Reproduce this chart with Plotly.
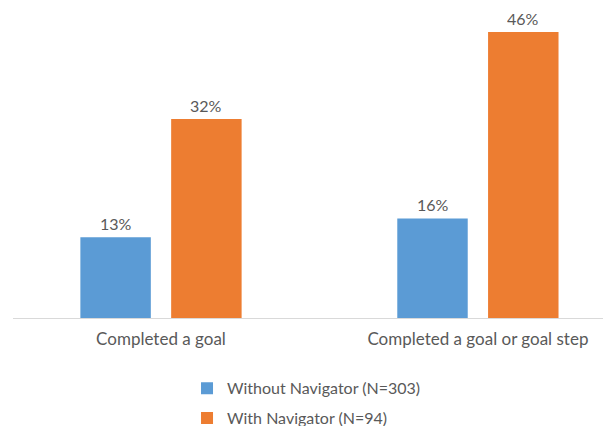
import plotly.graph_objects as go

categories = ["Completed a goal", "Completed a goal or goal step"]
series_names = ["Without Navigator (N=303)", "With Navigator (N=94)"]
without_nav = [13, 16]
with_nav = [32, 46]
colors = ["#5B9BD5", "#ED7D31"]

FONT = "Lato"
TXT = "#595959"
SLOT_PX = 90.8

fig = go.Figure()
annotations = []
for i, (name, vals) in enumerate(zip(series_names, [without_nav, with_nav])):
    fig.add_trace(go.Bar(
        x=categories, y=vals, name=name,
        marker=dict(color=colors[i], line=dict(width=0)),
        legendgroup=f"g{i}",
    ))
    for cat, v in zip(categories, vals):
        annotations.append(dict(
            x=cat, y=v, xref="x", yref="y", text=f"{v}%", showarrow=False,
            yanchor="bottom", yshift=5, xshift=(i - 0.5) * SLOT_PX,
            height=15, borderpad=0, valign="middle",
            font=dict(family=FONT, size=16, color=TXT),
        ))

# the page body has an 8px margin, so the figure is sized to fill the rest of the window
fig.update_layout(
    width=603, height=418,
    margin=dict(l=5, r=0, t=0, b=108, autoexpand=False),
    paper_bgcolor="white", plot_bgcolor="white",
    barmode="group", bargap=0.427, bargroupgap=0.224,
    font=dict(family=FONT, size=17, color=TXT),
    showlegend=True,
    legend=dict(
        orientation="v", x=0.291, xanchor="left", y=-0.172, yanchor="top",
        font=dict(family=FONT, size=16, color=TXT),
        tracegroupgap=6, traceorder="grouped",
    ),
    annotations=annotations,
    xaxis=dict(
        range=[-0.467, 1.42], showline=True, linecolor="#D9D9D9", linewidth=1,
        ticks="", showgrid=False, zeroline=False, ticklabelstandoff=6,
        tickfont=dict(family=FONT, size=17, color=TXT),
    ),
    yaxis=dict(range=[0, 49.84], visible=False, showgrid=False, zeroline=False),
)

fig.write_html("out.html")
